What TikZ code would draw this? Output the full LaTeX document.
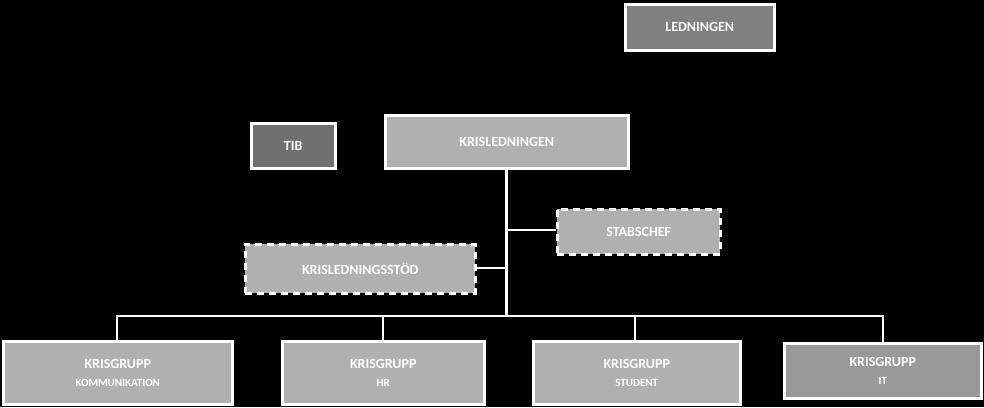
\documentclass[tikz,border=0pt]{standalone}
\usepackage{fontspec}
\setmainfont{Carlito}
\begin{document}
\begin{tikzpicture}[x=1pt,y=-1pt,
 box/.style={draw=white,line width=2.5pt,text=white,font=\bfseries\fontsize{14}{16}\selectfont,inner sep=0pt,anchor=north west},
 dbox/.style={box,dash pattern=on 7pt off 5pt},
 ln/.style={draw=white,line width=2.5pt}]
\fill[black] (0,0) rectangle (984,407);
\useasboundingbox (0,0) rectangle (984,407);
\node[box,fill=gray!100!black,minimum width=149pt,minimum height=46pt,fill={rgb,255:red,128;green,128;blue,128}] (led) at (624,3) {LEDNINGEN};
\node[box,fill={rgb,255:red,112;green,112;blue,112},minimum width=84pt,minimum height=45pt] (tib) at (250,122) {TIB};
\node[box,fill={rgb,255:red,176;green,176;blue,176},minimum width=243pt,minimum height=53pt] (kl) at (384,114) {KRISLEDNINGEN};
\node[dbox,fill={rgb,255:red,176;green,176;blue,176},minimum width=163pt,minimum height=45pt] (sc) at (556,208) {STABSCHEF};
\node[dbox,fill={rgb,255:red,176;green,176;blue,176},minimum width=230pt,minimum height=49pt] (ks) at (244,243) {KRISLEDNINGSSTÖD};
\tikzset{kg/.style={box,fill={rgb,255:red,176;green,176;blue,176},minimum height=63pt,align=center}}
\newcommand{\kgt}[1]{KRISGRUPP\\[2pt]{\fontsize{11}{13}\selectfont #1}}
\node[kg,minimum width=229pt] (k1) at (2,340) {\kgt{KOMMUNIKATION}};
\node[kg,minimum width=202pt] (k2) at (281,340) {\kgt{HR}};
\node[kg,minimum width=207pt] (k3) at (532,340) {\kgt{STUDENT}};
\node[kg,minimum width=197pt,minimum height=55pt,fill={rgb,255:red,153;green,153;blue,153}] (k4) at (783,342) {\kgt{IT}};
\coordinate (j1) at (505,230);
\coordinate (j2) at (505,268);
\coordinate (bus) at (505,316);
\draw[ln] (kl.south) ++(-0.5,0) coordinate (top) -- (top |- bus);
\draw[ln] (top |- j1) -- (sc.west |- j1);
\draw[ln] (top |- j2) -- (ks.east |- j2);
\draw[ln] (k1.north -| 117,0) -- (117,316) -- (883,316) -- (k4.north -| 883,0);
\draw[ln] (383,316) -- (k2.north -| 383,0);
\draw[ln] (635,316) -- (k3.north -| 635,0);
\end{tikzpicture}
\end{document}
